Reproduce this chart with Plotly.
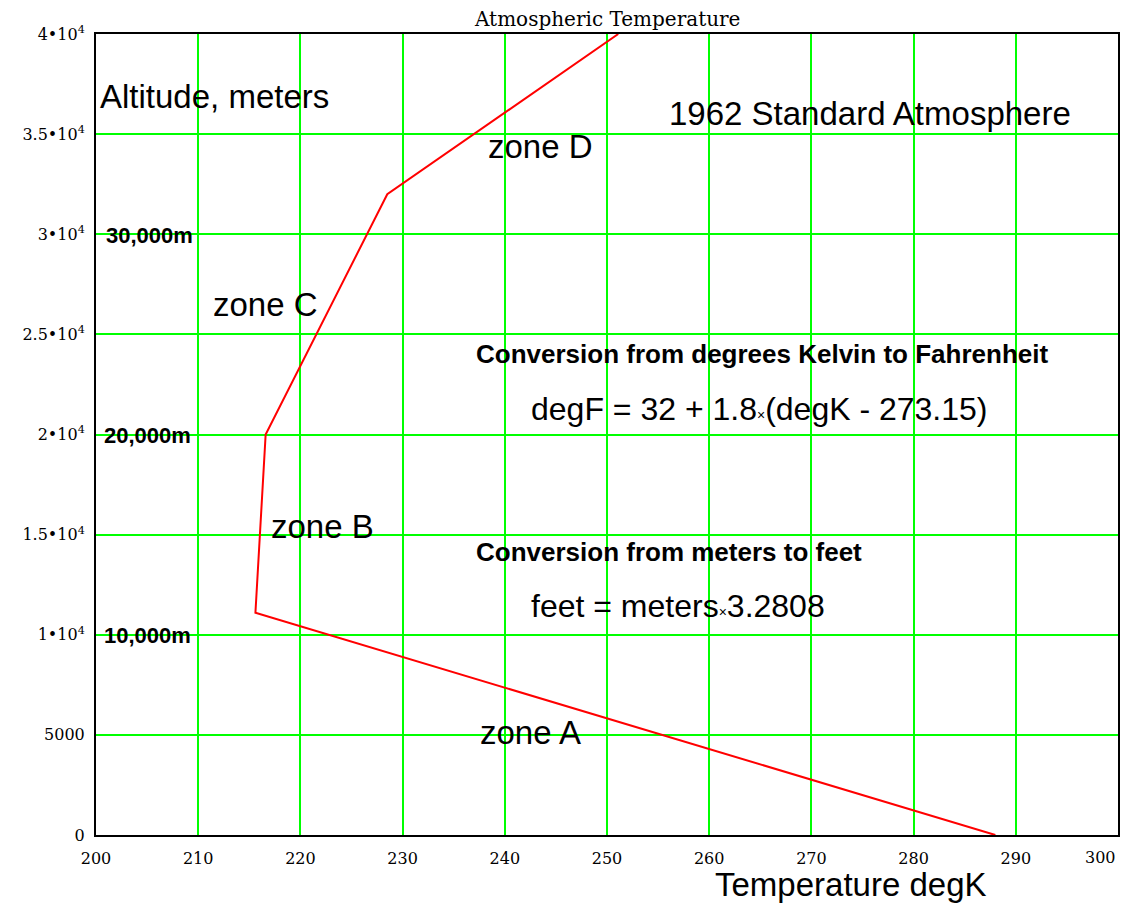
import plotly.graph_objects as go

# Data
temperature_K = [288.0, 215.6, 216.6, 228.5, 251.1]
altitude_m = [0, 11100, 20000, 32000, 40000]

x_ticks = [200, 210, 220, 230, 240, 250, 260, 270, 280, 290, 300]
x_tick_text = ["200", "210", "220", "230", "240", "250", "260", "270", "280", "290", ""]
y_ticks = [0, 5000, 10000, 15000, 20000, 25000, 30000, 35000, 40000]
y_tick_text = ["0", "5000", "1•10<sup>4</sup>", "1.5•10<sup>4</sup>", "2•10<sup>4</sup>",
               "2.5•10<sup>4</sup>", "3•10<sup>4</sup>", "3.5•10<sup>4</sup>", "4•10<sup>4</sup>"]

fig = go.Figure()
fig.add_trace(go.Scatter(x=temperature_K, y=altitude_m, mode="lines",
                         line=dict(color="#ff0000", width=2), showlegend=False))

serif = "DejaVu Serif"
sans = "Liberation Sans, Arial, sans-serif"

# page body has an 8px margin, so the figure is sized/offset to compensate
fig.update_layout(
    width=1122, height=899,
    margin=dict(l=88, r=12, t=26, b=72, autoexpand=False),
    paper_bgcolor="white", plot_bgcolor="white",
    showlegend=False,
)
fig.update_xaxes(range=[200, 300], tickvals=x_ticks, ticktext=x_tick_text,
                 showgrid=True, gridcolor="#00ff00", gridwidth=2,
                 showline=True, linecolor="black", linewidth=2, mirror=True,
                 ticks="", ticklabelstandoff=8, zeroline=False, automargin=False,
                 tickfont=dict(family=serif, size=16, color="black"))
fig.update_yaxes(range=[0, 40000], tickvals=y_ticks, ticktext=y_tick_text,
                 showgrid=True, gridcolor="#00ff00", gridwidth=2,
                 showline=True, linecolor="black", linewidth=2, mirror=True,
                 ticks="", ticklabelstandoff=6, zeroline=False, automargin=False,
                 tickfont=dict(family=serif, size=16, color="black"))

ann = []
def add(text, x, y, size, bold=False, family=sans, xref="x", yref="y", xanchor="left"):
    t = f"<b>{text}</b>" if bold else text
    ann.append(dict(text=t, x=x, y=y, xref=xref, yref=yref, xanchor=xanchor, yanchor="middle",
                    showarrow=False, font=dict(family=family, size=size, color="black")))

add("Atmospheric Temperature", 0.5, 1.019, 20, family=serif, xref="paper", yref="paper", xanchor="center")
add("300", x_ticks[-1], -0.0275, 16, family=serif, yref="paper", xanchor="right")
add("Temperature degK", 273.9, -0.062, 33, yref="paper", xanchor="center")
add("Altitude, meters", 200.2, 36900, 33)
add("1962 Standard Atmosphere", 255.9, 36050, 33)
add("zone D", 238.2, 34400, 33)
add("zone C", 211.3, 26500, 33)
add("zone B", 216.9, 15400, 33)
add("zone A", 237.4, 5100, 33)
add("30,000m", 200.8, 29950, 22, bold=True)
add("20,000m", 200.6, 19950, 22, bold=True)
add("10,000m", 200.6, 9950, 22, bold=True)
add("Conversion from degrees Kelvin to Fahrenheit", 237.0, 24000, 26, bold=True)
add("degF = 32 + 1.8<span style='font-size:14px'>×</span>(degK - 273.15)", 242.4, 21250, 32)
add("Conversion from meters to feet", 237.0, 14150, 26, bold=True)
add("feet = meters<span style='font-size:14px'>×</span>3.2808", 242.4, 11450, 32)

fig.update_layout(annotations=ann)
fig.write_html("out.html")
